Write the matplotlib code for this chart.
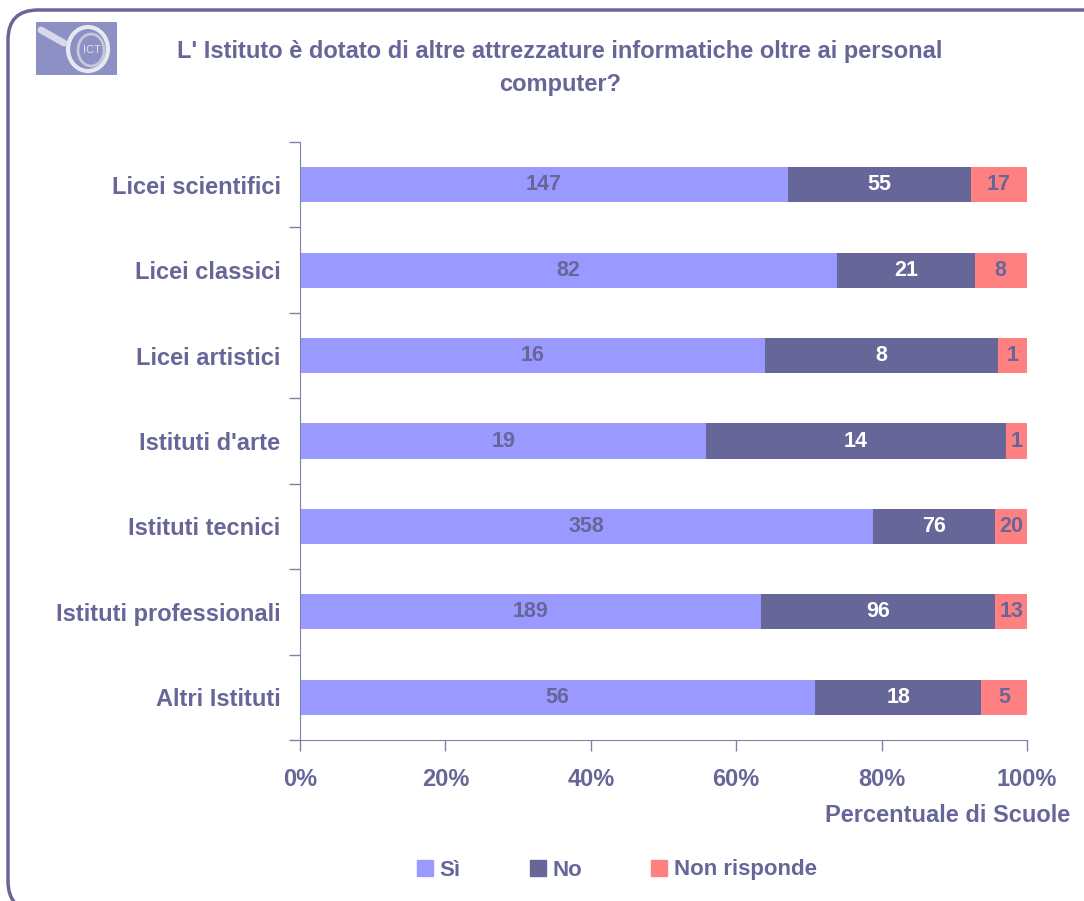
import matplotlib
matplotlib.use("Agg")
import matplotlib.pyplot as plt
from matplotlib.patches import FancyBboxPatch, Ellipse, Patch
import numpy as np

plt.rcParams['font.family'] = ['Liberation Sans', 'DejaVu Sans']

categories = ["Licei scientifici", "Licei classici", "Licei artistici", "Istituti d'arte",
              "Istituti tecnici", "Istituti professionali", "Altri Istituti"]
si = [147, 82, 16, 19, 358, 189, 56]
no = [55, 21, 8, 14, 76, 96, 18]
non_risponde = [17, 8, 1, 1, 20, 13, 5]
series_names = ["Sì", "No", "Non risponde"]
xticks = [0, 20, 40, 60, 80, 100]
xtick_labels = ["0%", "20%", "40%", "60%", "80%", "100%"]

title = "L' Istituto è dotato di altre attrezzature informatiche oltre ai personal\ncomputer?"
xlabel = "Percentuale di Scuole"

TXT = '#666699'
colors = ['#9999FF', '#666699', '#FF8080']
label_colors = [TXT, 'white', TXT]

fig = plt.figure(figsize=(10.84, 9.01), dpi=100)
W, H = 1084, 901
ax = fig.add_axes([300 / W, 1 - 740 / H, 727 / W, 598 / H])

data = np.array([si, no, non_risponde], dtype=float)
totals = data.sum(axis=0)
pct = data / totals * 100
y = np.arange(len(categories))
left = np.zeros(len(categories))
for k in range(3):
    ax.barh(y, pct[k], left=left, height=0.41, color=colors[k], label=series_names[k])
    for i in range(len(categories)):
        ax.text(left[i] + pct[k][i] / 2, y[i], str(int(data[k][i])), ha='center', va='center',
                color=label_colors[k], fontsize=15.5, fontweight='bold')
    left += pct[k]

ax.set_xlim(0, 100)
ax.set_ylim(len(categories) - 0.5, -0.5)
ax.set_yticks(y)
ax.set_yticklabels(categories, fontsize=17, fontweight='bold', color=TXT)
ax.set_yticks(np.arange(-0.5, len(categories)), minor=True)
ax.tick_params(axis='y', which='major', length=0, pad=14)
ax.tick_params(axis='y', which='minor', length=8, color='#8080A8', width=1)
ax.set_xticks(xticks)
ax.set_xticklabels(xtick_labels, fontsize=17, fontweight='bold', color=TXT)
ax.tick_params(axis='x', length=8, color='#8080A8', width=1, pad=12)
for s in ['top', 'right']:
    ax.spines[s].set_visible(False)
for s in ['left', 'bottom']:
    ax.spines[s].set_color('#8080A8')

fig.text(1070 / W, 1 - 815 / H, xlabel, ha='right', va='center', fontsize=17,
         fontweight='bold', color=TXT)

fig.text(560 / W, 1 - 68 / H, title, ha='center', va='center', fontsize=17,
         fontweight='bold', color=TXT, linespacing=1.55)

handles = [Patch(color=c) for c in colors]
leg = fig.legend(handles, series_names, loc='center', bbox_to_anchor=(617 / W, 1 - 870 / H),
                 ncol=3, frameon=False, handlelength=0.72, handleheight=0.72,
                 handletextpad=0.3, columnspacing=3.1, borderpad=0, borderaxespad=0,
                 prop={'weight': 'bold', 'size': 16})
for t in leg.get_texts():
    t.set_color(TXT)

# border
border = FancyBboxPatch((0.08, -0.1), 11.2, 9.01, boxstyle="round,pad=0,rounding_size=0.3",
                        transform=fig.dpi_scale_trans, fill=False, edgecolor='#666699',
                        linewidth=2.5, clip_on=False)
fig.patches.append(border)

# logo
lax = fig.add_axes([36 / W, 1 - 75 / H, 81 / W, 53 / H])
lax.set_xlim(0, 81)
lax.set_ylim(0, 53)
lax.set_facecolor('#8C90C4')
lax.set_xticks([])
lax.set_yticks([])
for s in lax.spines.values():
    s.set_visible(False)
lax.plot([5, 28], [45, 32], color='#D8D8E8', linewidth=5, solid_capstyle='round')
lax.add_patch(Ellipse((52, 26), 40, 44, fill=False, edgecolor='#E8E8F0', linewidth=3))
lax.add_patch(Ellipse((55, 25), 26, 32, fill=False, edgecolor='#C8C8DC', linewidth=2))
lax.text(56, 25, "ICT", ha='center', va='center', color='#E0E0EC', fontsize=8)

fig.savefig("out.png", dpi=100)
